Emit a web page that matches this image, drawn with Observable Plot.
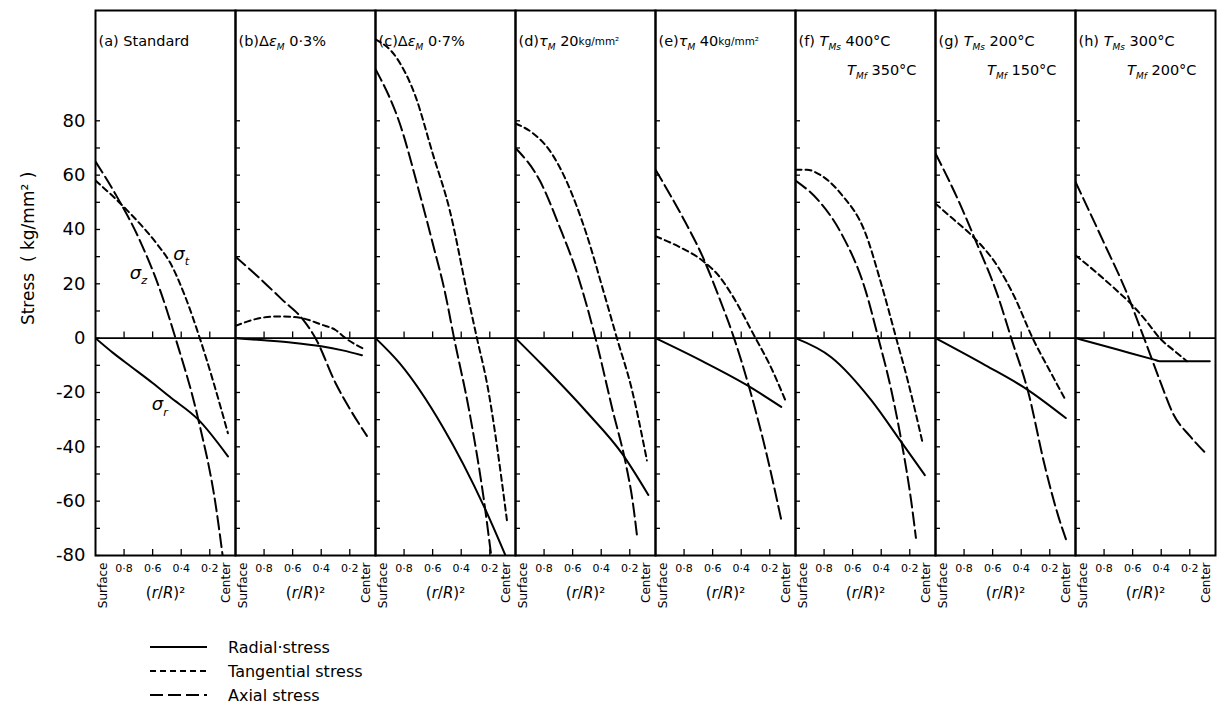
<!DOCTYPE html>
<html><head><meta charset="utf-8">
<script src="https://cdn.jsdelivr.net/npm/d3@7"></script>
<script src="https://cdn.jsdelivr.net/npm/@observablehq/plot@0.6"></script>
<style>
body{margin:0;background:#fff;font-family:"DejaVu Sans",sans-serif;}
#wrap{position:relative;width:1220px;height:711px;overflow:hidden;}
#legend{position:absolute;left:0;top:620px;}
</style></head><body><div id="wrap"></div>
<script>
// ---------- data ----------
const panels = ["a","b","c","d","e","f","g","h"];
const title1 = ["(a) Standard","(b)Δ*ε*_{M} 0·3%","(c)Δ*ε*_{M} 0·7%","(d)*τ*_{M} 20^{kg/mm²}","(e)*τ*_{M} 40^{kg/mm²}","(f) *T*_{Ms} 400°C","(g) *T*_{Ms} 200°C","(h) *T*_{Ms} 300°C"];
const title2 = ["","","","","","*T*_{Mf} 350°C","*T*_{Mf} 150°C","*T*_{Mf} 200°C"];
const yMajor = [-80,-60,-40,-20,0,20,40,60,80];
const yMinor = [-80,-70,-60,-50,-40,-30,-20,-10,0,10,20,30,40,50,60,70,80];
const xTicks = [0.8,0.6,0.4,0.2];
const xTickLabels = ["0·8","0·6","0·4","0·2"];
const xEndLabels = ["Surface","Center"];
const xAxisTitle = "(*r*/*R*)²";
const yAxisTitle = "Stress  ( kg/mm² )";
const seriesNames = ["Radial·stress","Tangential stress","Axial stress"];

// [ (r/R)^2 , stress ] per panel a..h
const radial = [
  [[1,0],[0.875,-5.5],[0.75,-10.5],[0.6,-16.5],[0.48,-21.6],[0.28,-30],[0.073,-43.5]],
  [[1,0],[0.8,-0.8],[0.6,-1.7],[0.4,-3],[0.25,-4.5],[0.115,-6.3]],
  [[1,0],[0.83,-9.3],[0.53,-32.6],[0.24,-62],[0.09,-80],[0.05,-85]],
  [[1,0],[0.81,-10],[0.505,-27],[0.255,-42.4],[0.07,-57.7]],
  [[1,0],[0.69,-8],[0.36,-17.3],[0.12,-25.3]],
  [[1,0],[0.75,-7],[0.47,-22.8],[0.26,-38.2],[0.095,-50.4]],
  [[1,0],[0.65,-10],[0.352,-19.1],[0.088,-29.4]],
  [[1,0],[0.7,-4.3],[0.45,-7.9],[0.41,-8.5],[0.38,-8.5],[0.06,-8.5]]
];
const tangential = [
  [[1,58],[0.854,51],[0.75,45.5],[0.645,39.5],[0.56,34],[0.48,28],[0.37,15],[0.27,0],[0.17,-17],[0.073,-35]],
  [[1,4.5],[0.86,7],[0.72,8],[0.6,7.8],[0.53,7.3],[0.4,5],[0.3,3],[0.23,0],[0.1,-4]],
  [[1,110],[0.85,103],[0.72,89],[0.6,68],[0.48,47],[0.36,17],[0.29,0],[0.22,-16.5],[0.08,-67]],
  [[1,79],[0.88,75.5],[0.76,69],[0.645,58],[0.505,38.6],[0.38,16.5],[0.29,0],[0.185,-19],[0.08,-45]],
  [[1,37.5],[0.83,33.5],[0.67,28.5],[0.55,22.5],[0.46,15.5],[0.3,0],[0.205,-9.3],[0.09,-23]],
  [[1,62],[0.92,62],[0.84,60.5],[0.68,53],[0.51,38.6],[0.4,20],[0.295,0],[0.21,-16.5],[0.11,-38.6]],
  [[1,49.5],[0.88,44],[0.75,38],[0.56,26],[0.45,15.5],[0.32,0],[0.2,-12],[0.087,-23]],
  [[1,30.5],[0.85,24],[0.7,17],[0.6,12],[0.5,6],[0.41,0],[0.3,-5],[0.22,-8.5]]
];
const axial = [
  [[1,65],[0.86,53],[0.69,36],[0.54,16.5],[0.44,0],[0.28,-30],[0.157,-62],[0.11,-80],[0.09,-88]],
  [[1,30],[0.83,22],[0.67,14],[0.53,7],[0.44,0],[0.3,-16.5],[0.2,-26],[0.08,-36]],
  [[1,99],[0.83,79],[0.69,53],[0.6,35],[0.51,16],[0.45,0],[0.345,-26.5],[0.24,-60],[0.19,-80],[0.17,-88]],
  [[1,70],[0.83,58],[0.69,40.8],[0.57,24],[0.44,0],[0.32,-26.5],[0.225,-47],[0.18,-60],[0.15,-72.5]],
  [[1,62],[0.81,44.5],[0.67,30],[0.555,15],[0.45,0],[0.345,-18],[0.23,-41],[0.115,-68]],
  [[1,58],[0.84,50.7],[0.68,38.6],[0.51,17.6],[0.42,0],[0.33,-19],[0.26,-37.5],[0.19,-60],[0.157,-73.5]],
  [[1,68],[0.84,50.7],[0.72,36],[0.56,15],[0.47,0],[0.35,-20],[0.235,-47],[0.14,-65.6],[0.087,-74]],
  [[1,57.5],[0.8,35],[0.64,16.5],[0.52,0],[0.41,-15.5],[0.315,-28],[0.2,-36],[0.095,-42]]
];
const curveLabels = [
  {panel:"a", x:0.40, y:31, text:"*σ*_{t}"},
  {panel:"a", x:0.70, y:24, text:"*σ*_{z}"},
  {panel:"a", x:0.55, y:-24.5, text:"*σ*_{r}"}
];

// ---------- build ----------
const rows = (arr) => arr.flatMap((pts, i) => pts.map(([x, y]) => ({panel: panels[i], x, y})));
const dashes = [null, "6,4", "13,5"];
const seriesData = [rows(radial), rows(tangential), rows(axial)];
const titles = panels.map((p, i) => ({panel: p, t1: title1[i], t2: title2[i]}));
const surf = panels.map(p => ({panel: p, x: 1, t: xEndLabels[0]}));
const cent = panels.map(p => ({panel: p, x: 0, t: xEndLabels[1]}));

const chart = Plot.plot({
  width: 1220, height: 620,
  marginTop: 10, marginBottom: 65, marginLeft: 92, marginRight: 2,
  style: {fontFamily: "DejaVu Sans, sans-serif", background: "white", color: "black"},
  fx: {domain: panels, padding: 0, axis: null},
  x: {domain: [1, 0.02]},
  y: {domain: [-80, 120.6]},
  marks: [
    Plot.ruleY([0], {stroke: "black", strokeWidth: 1.6}),
    Plot.tickY(yMinor, {y: d => d, insetRight: 135, strokeWidth: 1.3}),
    Plot.tickX(xTicks, {x: d => d, insetTop: 539, strokeWidth: 1.3}),
    Plot.ruleX(xTicks, {x: d => d, y1: 0, y2: 2.3, strokeWidth: 1.3}),
    ...seriesData.map((data, k) => Plot.line(data, {
      fx: "panel", x: "x", y: "y", z: "panel", curve: "monotone-x",
      stroke: "black", strokeWidth: 2, strokeDasharray: dashes[k], clip: true
    })),
    Plot.frame({stroke: "black", strokeWidth: 2}),
    Plot.axisY({ticks: yMajor, tickSize: 0, tickPadding: 10, fontSize: 18, label: null,
      tickFormat: d => d < 0 ? "-" + Math.abs(d) : String(d)}),
    Plot.axisX({ticks: xTicks, tickSize: 0, tickPadding: 9, fontSize: 11, label: null,
      tickFormat: d => xTickLabels[xTicks.indexOf(d)]}),
    Plot.text(surf, {fx: "panel", x: "x", text: "t", frameAnchor: "bottom", dy: 7, dx: 8,
      rotate: -90, textAnchor: "end", lineAnchor: "middle", fontSize: 12}),
    Plot.text(cent, {fx: "panel", x: "x", text: "t", frameAnchor: "bottom", dy: 7, dx: -12,
      rotate: -90, textAnchor: "end", lineAnchor: "middle", fontSize: 12}),
    Plot.text(panels.map(p => ({panel: p})), {fx: "panel", text: () => xAxisTitle, frameAnchor: "bottom",
      dy: 42, fontSize: 15}),
    Plot.text(titles, {fx: "panel", text: "t1", frameAnchor: "top-left", textAnchor: "start",
      lineAnchor: "middle", dx: 3, dy: 31, fontSize: 14.5}),
    Plot.text(titles, {fx: "panel", text: "t2", frameAnchor: "top-right", textAnchor: "end",
      lineAnchor: "middle", dx: -19, dy: 60, fontSize: 14.5}),
    Plot.text(curveLabels, {fx: "panel", x: "x", y: "y", text: "text", fontSize: 18}),
    Plot.text([{panel: "a", y: 4.8}], {fx: "panel", y: "y", text: () => yAxisTitle, frameAnchor: "left",
      dx: -67, rotate: -90, fontSize: 17})
  ]
});
const wrap = document.getElementById("wrap");
wrap.appendChild(chart);

// rich text: *italic*, _{sub}, ^{small}
function richify(el) {
  const s = el.textContent;
  if (!/[_^]\{|\*/.test(s)) return;
  const fs = parseFloat(getComputedStyle(el).fontSize) || 15;
  el.textContent = "";
  const parts = s.split(/(_\{[^}]*\}|\^\{[^}]*\}|\*[^*]*\*)/).filter(p => p);
  let shift = 0;
  for (const p of parts) {
    const ts = document.createElementNS("http://www.w3.org/2000/svg", "tspan");
    let target = 0, txt = p;
    if (p.startsWith("_{")) { txt = p.slice(2, -1); target = fs * 0.3; ts.setAttribute("font-size", fs * 0.62); ts.setAttribute("font-style", "italic"); }
    else if (p.startsWith("^{")) { txt = p.slice(2, -1); target = -fs * 0.05; ts.setAttribute("font-size", fs * 0.72); }
    else if (p.startsWith("*")) { txt = p.slice(1, -1); ts.setAttribute("font-style", "italic"); }
    const d = target - shift;
    if (d) ts.setAttribute("dy", d);
    shift = target;
    ts.textContent = txt;
    el.appendChild(ts);
  }
}
chart.querySelectorAll("text").forEach(richify);

// legend
const lg = d3.select(wrap).append("svg").attr("id", "legend").attr("width", 600).attr("height", 91)
  .style("font-family", "DejaVu Sans, sans-serif");
seriesNames.forEach((name, i) => {
  const y = 27 + i * 24;
  lg.append("line").attr("x1", 150).attr("x2", 207).attr("y1", y).attr("y2", y)
    .attr("stroke", "black").attr("stroke-width", 2).attr("stroke-dasharray", dashes[i]);
  lg.append("text").attr("x", 228).attr("y", y).attr("dy", "0.35em").attr("font-size", 16).text(name);
});
</script></body></html>
